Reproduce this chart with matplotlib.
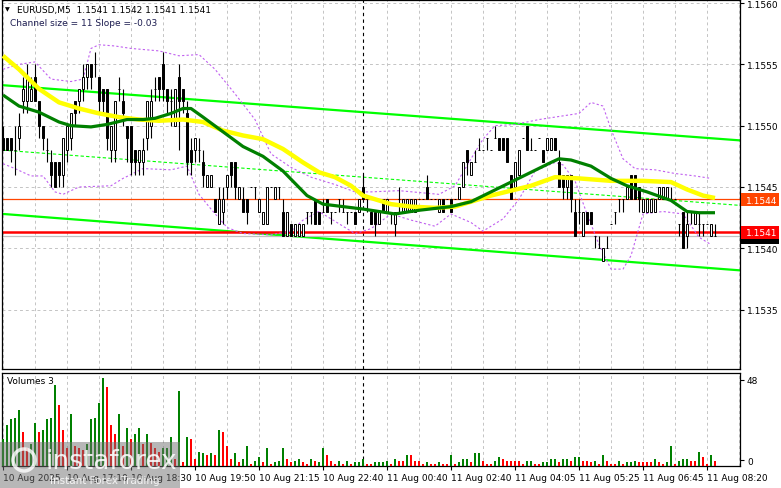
import matplotlib
matplotlib.use("Agg")
import matplotlib.pyplot as plt
import numpy as np
from matplotlib.patches import Rectangle, Ellipse

# M5 candles
opens = [
    1.1549, 1.1549, 1.1549, 1.1548, 1.1549, 1.1552, 1.1552, 1.1552, 1.1554, 1.1552,
    1.1550, 1.1548, 1.1547, 1.1547, 1.1547, 1.1546, 1.1548, 1.1549, 1.1552, 1.1552,
    1.1553, 1.1554, 1.1555, 1.1555, 1.1554, 1.1553, 1.1553, 1.1548, 1.1548, 1.1553,
    1.1552, 1.1550, 1.1550, 1.1548, 1.1547, 1.1547, 1.1549, 1.1550, 1.1553, 1.1554,
    1.1555, 1.1553, 1.1552, 1.1550, 1.1554, 1.1553, 1.1551, 1.1548, 1.1548, 1.1548,
    1.1547, 1.1545, 1.1545, 1.1544, 1.1542, 1.1543, 1.1545, 1.1547, 1.1547, 1.1544,
    1.1544, 1.1544, 1.1545, 1.1545, 1.1543, 1.1542, 1.1542, 1.1545, 1.1544, 1.1545,
    1.1543, 1.1541, 1.1542, 1.1541, 1.1541, 1.1541, 1.1543, 1.1543, 1.1544, 1.1543,
    1.1543, 1.1544, 1.1543, 1.1543, 1.1544, 1.1543, 1.1543, 1.1543, 1.1543, 1.1543,
    1.1545, 1.1544, 1.1543, 1.1543, 1.1542, 1.1544, 1.1543, 1.1543, 1.1542, 1.1544,
    1.1543, 1.1543, 1.1543, 1.1543, 1.1544, 1.1544, 1.1545, 1.1544, 1.1544, 1.1543,
    1.1544, 1.1544, 1.1544, 1.1544, 1.1544, 1.1545, 1.1548, 1.1546, 1.1547, 1.1548,
    1.1548, 1.1549, 1.1548, 1.1549, 1.1549, 1.1549, 1.1549, 1.1546, 1.1545, 1.1546,
    1.1549, 1.1550, 1.1548, 1.1548, 1.1549, 1.1548, 1.1548, 1.1548, 1.1549, 1.1547,
    1.1546, 1.1545, 1.1546, 1.1543, 1.1543, 1.1541, 1.1543, 1.1543, 1.1541, 1.1540,
    1.1539, 1.1540, 1.1542, 1.1543, 1.1544, 1.1544, 1.1544, 1.1546, 1.1546, 1.1545,
    1.1543, 1.1543, 1.1543, 1.1543, 1.1544, 1.1544, 1.1544, 1.1544, 1.1544, 1.1542,
    1.1543, 1.1541, 1.1543, 1.1542, 1.1542, 1.1542, 1.1542, 1.1541, 1.1541]
closes = [
    1.1548, 1.1548, 1.1548, 1.1548, 1.1550, 1.1553, 1.1554, 1.1553, 1.1552, 1.1550,
    1.1549, 1.1548, 1.1546, 1.1545, 1.1546, 1.1549, 1.1550, 1.1551, 1.1551, 1.1553,
    1.1554, 1.1555, 1.1554, 1.1555, 1.1552, 1.1552, 1.1549, 1.1550, 1.1552, 1.1553,
    1.1551, 1.1549, 1.1547, 1.1547, 1.1548, 1.1548, 1.1552, 1.1552, 1.1553, 1.1553,
    1.1553, 1.1552, 1.1552, 1.1553, 1.1552, 1.1552, 1.1547, 1.1547, 1.1549, 1.1548,
    1.1546, 1.1546, 1.1546, 1.1543, 1.1544, 1.1544, 1.1546, 1.1546, 1.1545, 1.1545,
    1.1543, 1.1543, 1.1545, 1.1545, 1.1544, 1.1543, 1.1545, 1.1545, 1.1545, 1.1545,
    1.1541, 1.1543, 1.1541, 1.1542, 1.1542, 1.1542, 1.1543, 1.1543, 1.1542, 1.1542,
    1.1543, 1.1543, 1.1543, 1.1543, 1.1544, 1.1543, 1.1543, 1.1543, 1.1542, 1.1544,
    1.1544, 1.1544, 1.1542, 1.1542, 1.1543, 1.1543, 1.1544, 1.1543, 1.1543, 1.1544,
    1.1544, 1.1544, 1.1544, 1.1544, 1.1544, 1.1544, 1.1544, 1.1544, 1.1544, 1.1544,
    1.1543, 1.1544, 1.1543, 1.1544, 1.1545, 1.1547, 1.1547, 1.1547, 1.1547, 1.1548,
    1.1548, 1.1549, 1.1548, 1.1549, 1.1548, 1.1548, 1.1547, 1.1544, 1.1547, 1.1548,
    1.1549, 1.1548, 1.1548, 1.1548, 1.1549, 1.1547, 1.1549, 1.1549, 1.1548, 1.1545,
    1.1545, 1.1546, 1.1544, 1.1541, 1.1543, 1.1543, 1.1542, 1.1542, 1.1541, 1.1540,
    1.1540, 1.1540, 1.1542, 1.1543, 1.1544, 1.1544, 1.1545, 1.1544, 1.1544, 1.1544,
    1.1544, 1.1544, 1.1544, 1.1544, 1.1545, 1.1545, 1.1545, 1.1544, 1.1544, 1.1542,
    1.1540, 1.1542, 1.1543, 1.1543, 1.1542, 1.1542, 1.1542, 1.1542, 1.1541]
highs = [
    1.1550, 1.1549, 1.1549, 1.1550, 1.1551, 1.1554, 1.1555, 1.1554, 1.1555, 1.1552,
    1.1550, 1.1549, 1.1548, 1.1547, 1.1547, 1.1549, 1.1550, 1.1551, 1.1552, 1.1553,
    1.1555, 1.1555, 1.1555, 1.1556, 1.1554, 1.1553, 1.1553, 1.1550, 1.1552, 1.1554,
    1.1553, 1.1550, 1.1550, 1.1548, 1.1548, 1.1549, 1.1552, 1.1553, 1.1554, 1.1554,
    1.1556, 1.1553, 1.1553, 1.1553, 1.1555, 1.1553, 1.1552, 1.1549, 1.1549, 1.1549,
    1.1548, 1.1546, 1.1546, 1.1544, 1.1545, 1.1545, 1.1546, 1.1547, 1.1547, 1.1545,
    1.1545, 1.1544, 1.1545, 1.1545, 1.1544, 1.1543, 1.1545, 1.1545, 1.1545, 1.1545,
    1.1544, 1.1543, 1.1542, 1.1542, 1.1542, 1.1542, 1.1543, 1.1543, 1.1544, 1.1543,
    1.1544, 1.1544, 1.1543, 1.1543, 1.1544, 1.1544, 1.1543, 1.1543, 1.1543, 1.1544,
    1.1546, 1.1544, 1.1543, 1.1543, 1.1543, 1.1544, 1.1544, 1.1543, 1.1543, 1.1545,
    1.1544, 1.1544, 1.1544, 1.1544, 1.1544, 1.1544, 1.1546, 1.1544, 1.1544, 1.1544,
    1.1544, 1.1544, 1.1544, 1.1544, 1.1545, 1.1547, 1.1548, 1.1547, 1.1548, 1.1549,
    1.1548, 1.1549, 1.1548, 1.1550, 1.1549, 1.1549, 1.1549, 1.1546, 1.1547, 1.1548,
    1.1549, 1.1550, 1.1549, 1.1548, 1.1549, 1.1548, 1.1549, 1.1549, 1.1549, 1.1548,
    1.1546, 1.1546, 1.1546, 1.1544, 1.1544, 1.1543, 1.1543, 1.1543, 1.1541, 1.1541,
    1.1540, 1.1541, 1.1542, 1.1543, 1.1544, 1.1544, 1.1545, 1.1546, 1.1546, 1.1545,
    1.1544, 1.1544, 1.1544, 1.1544, 1.1545, 1.1545, 1.1545, 1.1545, 1.1544, 1.1542,
    1.1543, 1.1543, 1.1543, 1.1543, 1.1543, 1.1542, 1.1542, 1.1542, 1.1542]
lows = [
    1.1548, 1.1548, 1.1547, 1.1546, 1.1548, 1.1551, 1.1551, 1.1552, 1.1552, 1.1549,
    1.1548, 1.1547, 1.1545, 1.1545, 1.1545, 1.1545, 1.1547, 1.1548, 1.1550, 1.1551,
    1.1552, 1.1553, 1.1553, 1.1554, 1.1551, 1.1551, 1.1548, 1.1547, 1.1547, 1.1552,
    1.1550, 1.1547, 1.1546, 1.1546, 1.1546, 1.1546, 1.1548, 1.1549, 1.1552, 1.1552,
    1.1552, 1.1551, 1.1550, 1.1550, 1.1548, 1.1551, 1.1546, 1.1546, 1.1547, 1.1547,
    1.1545, 1.1545, 1.1545, 1.1543, 1.1542, 1.1542, 1.1544, 1.1545, 1.1544, 1.1544,
    1.1543, 1.1542, 1.1545, 1.1544, 1.1543, 1.1542, 1.1542, 1.1545, 1.1544, 1.1544,
    1.1541, 1.1541, 1.1541, 1.1541, 1.1541, 1.1541, 1.1542, 1.1542, 1.1542, 1.1542,
    1.1543, 1.1543, 1.1542, 1.1543, 1.1543, 1.1543, 1.1542, 1.1543, 1.1542, 1.1543,
    1.1544, 1.1543, 1.1542, 1.1541, 1.1542, 1.1543, 1.1543, 1.1542, 1.1541, 1.1543,
    1.1543, 1.1543, 1.1543, 1.1543, 1.1544, 1.1544, 1.1544, 1.1544, 1.1544, 1.1543,
    1.1543, 1.1544, 1.1543, 1.1544, 1.1544, 1.1545, 1.1546, 1.1546, 1.1547, 1.1548,
    1.1548, 1.1548, 1.1548, 1.1549, 1.1548, 1.1548, 1.1547, 1.1544, 1.1545, 1.1546,
    1.1549, 1.1548, 1.1548, 1.1548, 1.1549, 1.1547, 1.1548, 1.1548, 1.1548, 1.1545,
    1.1544, 1.1544, 1.1543, 1.1541, 1.1542, 1.1541, 1.1542, 1.1542, 1.1540, 1.1540,
    1.1539, 1.1540, 1.1542, 1.1542, 1.1543, 1.1543, 1.1544, 1.1544, 1.1544, 1.1543,
    1.1543, 1.1543, 1.1543, 1.1543, 1.1544, 1.1544, 1.1544, 1.1544, 1.1544, 1.1541,
    1.1540, 1.1540, 1.1542, 1.1542, 1.1541, 1.1541, 1.1542, 1.1541, 1.1541]

# Volumes 3 indicator (tick volume) and its colouring (g = up, r = down)
volumes = [
    15, 23, 26, 27, 31, 19, 10, 12, 24, 19, 20, 26, 27, 45, 34, 20, 10, 29, 11, 10,
    9, 12, 26, 27, 35, 49, 44, 23, 18, 29, 11, 21, 15, 18, 21, 12, 18, 13, 10, 8,
    10, 10, 16, 4, 42, 2, 16, 15, 4, 8, 7, 6, 7, 6, 20, 19, 11, 4, 7, 2,
    4, 11, 1, 3, 5, 2, 10, 1, 2, 3, 10, 4, 2, 3, 4, 2, 1, 4, 3, 2,
    10, 6, 3, 1, 3, 1, 3, 1, 2, 2, 4, 1, 1, 2, 2, 2, 3, 1, 4, 3,
    3, 6, 6, 3, 3, 1, 2, 1, 1, 2, 1, 1, 6, 1, 2, 4, 4, 2, 7, 7,
    3, 1, 1, 3, 5, 4, 3, 3, 3, 3, 1, 3, 3, 1, 1, 2, 2, 4, 4, 2,
    4, 4, 3, 5, 5, 3, 3, 2, 3, 1, 6, 3, 1, 1, 3, 1, 2, 2, 3, 2,
    2, 2, 2, 4, 2, 1, 2, 11, 1, 3, 4, 4, 3, 3, 8, 5, 1, 6, 3]
vol_dir = ("gggggrrggr" "ggggrrrgrr" "rgggggrrrg" "rgrggrgrrr" "gggrgrgrrg"
           "grgrgrrrgr" "ggrggrgrgg" "grrggrrgrg" "grrrgrgrgg" "grrggggrgr"
           "rgrrrrgrrg" "rrgrgggrgg" "rrrggrrrrr" "rggrrggggr" "ggrggrrrgr"
           "grrrgrgggr" "rrrgrrggrg" "ggrrgrrgr")

# moving averages (bar index, price)
yellow_i = [0, 4, 9, 14, 19, 24, 29, 34, 39, 45, 50, 55, 60, 65, 70, 75, 79, 83,
            87, 90, 97, 102, 108, 113, 117, 122, 127, 132, 138, 144, 152, 160,
            167, 171, 175, 178]
yellow_p = [1.15557, 1.15546, 1.15530, 1.15519, 1.15514, 1.15510, 1.15507,
            1.15505, 1.15504, 1.15505, 1.15503, 1.15496, 1.15492, 1.15489,
            1.15481, 1.15470, 1.15462, 1.15458, 1.15451, 1.15443, 1.15436,
            1.15434, 1.15433, 1.15434, 1.15438, 1.15443, 1.15447, 1.15451,
            1.15458, 1.15457, 1.15455, 1.15455, 1.15454, 1.15448, 1.15443, 1.15441]
green_i = [0, 4, 9, 14, 17, 22, 26, 31, 35, 38, 42, 45, 47, 50, 55, 60, 65, 70,
           73, 76, 80, 85, 90, 98, 104, 112, 117, 122, 127, 132, 137, 139, 142,
           147, 152, 156, 161, 167, 171, 174, 178]
green_p = [1.15525, 1.15516, 1.15511, 1.15503, 1.15500, 1.15499, 1.15501,
           1.15505, 1.15505, 1.15506, 1.15510, 1.15514, 1.15514, 1.15507,
           1.15495, 1.15483, 1.15475, 1.15463, 1.15453, 1.15443, 1.15436,
           1.15434, 1.15432, 1.15428, 1.15431, 1.15434, 1.15438, 1.15446,
           1.15454, 1.15462, 1.15470, 1.15473, 1.15472, 1.15467, 1.15457,
           1.15451, 1.15446, 1.15439, 1.15430, 1.15429, 1.15429]

# envelope bands (purple dashed)
band_up_i = [0, 4, 8, 12, 17, 20, 22, 24, 28, 32, 39, 44, 49, 53, 58, 63, 67, 72,
             77, 83, 88, 92, 99, 109, 113, 117, 120, 123, 128, 134, 140, 144,
             147, 150, 152, 155, 158, 163, 168, 173, 177]
band_up_p = [1.15546, 1.15550, 1.15552, 1.15538, 1.15536, 1.15538, 1.15563,
             1.15566, 1.15565, 1.15563, 1.15561, 1.15557, 1.15558, 1.15546,
             1.15526, 1.15505, 1.15477, 1.15466, 1.15458, 1.15452, 1.15446,
             1.15446, 1.15447, 1.15444, 1.15451, 1.15473, 1.15489, 1.15500,
             1.15501, 1.15505, 1.15508, 1.15510, 1.15519, 1.15516, 1.15497,
             1.15473, 1.15465, 1.15464, 1.15461, 1.15459, 1.15457]
band_lo_i = [0, 3, 7, 10, 13, 15, 19, 27, 30, 35, 42, 46, 49, 52, 56, 60, 67, 72,
             75, 79, 84, 88, 92, 97, 102, 108, 112, 117, 120, 125, 129, 133, 138,
             140, 143, 146, 149, 152, 155, 157, 160, 165, 170, 174, 177]
band_lo_p = [1.15469, 1.15465, 1.15459, 1.15459, 1.15446, 1.15444, 1.15450,
             1.15451, 1.15457, 1.15465, 1.15464, 1.15467, 1.15444, 1.15432,
             1.15417, 1.15412, 1.15411, 1.15414, 1.15423, 1.15430, 1.15420,
             1.15412, 1.15416, 1.15428, 1.15423, 1.15418, 1.15428, 1.15421,
             1.15414, 1.15424, 1.15440, 1.15463, 1.15470, 1.15468, 1.15455,
             1.15428, 1.15403, 1.15383, 1.15383, 1.15394, 1.15428, 1.15430,
             1.15428, 1.15409, 1.15403]

# regression channel end points
chan_i = [0, 184.25]
chan_upper = [1.15533, 1.15488]
chan_mid = [1.15480, 1.15435]
chan_lower = [1.15428, 1.15382]

orange_level = 1.15440
red_level = 1.15413
bid_level = 1.15410
separator_bar = 90

price_ticks = [1.1535, 1.1540, 1.1545, 1.1550, 1.1555, 1.1560]
time_pos = [0, 16, 32, 48, 64, 80, 96, 112, 128, 144, 160, 176]
time_labels = ["10 Aug 2025", "10 Aug 17:10", "10 Aug 18:30", "10 Aug 19:50",
               "10 Aug 21:15", "10 Aug 22:40", "11 Aug 00:40", "11 Aug 02:40",
               "11 Aug 04:05", "11 Aug 05:25", "11 Aug 06:45", "11 Aug 08:20"]

W, H = 781, 489
fig = plt.figure(figsize=(W / 100, H / 100), dpi=100)


def box(l, t, r, b):
    return [l / W, 1 - b / H, (r - l) / W, (b - t) / H]


def fx(px):
    return px / W


def fy(py):
    return 1 - py / H


ax = fig.add_axes(box(2, 1, 740, 370))
axv = fig.add_axes(box(2, 374, 740, 467))

grid_kw = dict(color='#c4c4c4', lw=0.7, ls=(0, (3, 3)), zorder=0)
for a in (ax, axv):
    a.set_xlim(-0.25, 184.25)
    for k in range(0, 185, 8):
        a.axvline(k, **grid_kw)
    a.axvline(separator_bar, color='black', lw=0.8, ls=(0, (3, 3)), zorder=1)
    for s in a.spines.values():
        s.set_linewidth(0.9)
        s.set_color('black')

ax.set_ylim(1.1530155, 1.156025)
for p in price_ticks:
    ax.axhline(p, **grid_kw)

# channel
ax.plot(chan_i, chan_upper, color='#00ff00', lw=1.6, zorder=2)
ax.plot(chan_i, chan_lower, color='#00ff00', lw=1.6, zorder=2)
ax.plot(chan_i, chan_mid, color='#00ff00', lw=0.8, ls=(0, (3, 2)), zorder=2)

# levels
ax.axhline(bid_level, color='#c0c0c0', lw=0.9, zorder=2)
ax.axhline(orange_level, color='#ff4500', lw=0.9, zorder=2)
ax.axhline(red_level, color='#ff0000', lw=1.8, zorder=2)

# bands
ax.plot(band_up_i, band_up_p, color='#c060f0', lw=0.8, ls=(0, (2, 2)), zorder=3)
ax.plot(band_lo_i, band_lo_p, color='#c060f0', lw=0.8, ls=(0, (2, 2)), zorder=3)

# candles
x = np.arange(len(closes))
o = np.array(opens)
c = np.array(closes)
ax.vlines(x, lows, highs, color='black', lw=0.8, zorder=4)
fill = ['white' if cc > oo else 'black' for oo, cc in zip(o, c)]
ax.bar(x, np.abs(c - o), bottom=np.minimum(o, c), width=0.55, color=fill,
       edgecolor='black', lw=0.7, zorder=5)

# moving averages
ax.plot(yellow_i, yellow_p, color='#ffff00', lw=3.2, zorder=6,
        solid_capstyle='butt')
ax.plot(green_i, green_p, color='#008000', lw=2.3, zorder=7,
        solid_capstyle='butt')

ax.set_xticks([])
ax.yaxis.tick_right()
ax.set_yticks(price_ticks)
ax.set_yticklabels([f"{p:.4f}" for p in price_ticks])
ax.tick_params(axis='y', direction='out', length=3, width=0.8, pad=2,
               labelsize=6.5)

# volumes
vcol = ['#008000' if d == 'g' else '#ff0000' for d in vol_dir]
axv.bar(x, volumes, width=0.6, color=vcol, zorder=3)
axv.set_ylim(0, 51.9)
axv.yaxis.tick_right()
axv.set_yticks([3.3, 48])
axv.set_yticklabels(['0', '48'])
axv.tick_params(axis='y', direction='out', length=3, width=0.8, pad=2,
                labelsize=6.5)
axv.set_xticks(time_pos)
axv.set_xticklabels(time_labels, ha='left')
axv.tick_params(axis='x', direction='out', length=3, width=0.8, pad=2,
                labelsize=6.5)

# header texts
fig.text(fx(5), fy(10), "\u25bc", fontsize=4.5, va='center')
fig.text(fx(17), fy(10), "EURUSD,M5  1.1541 1.1542 1.1541 1.1541",
         fontsize=6.5, va='center')
fig.text(fx(10), fy(23), "Channel size = 11 Slope = -0.03", fontsize=6.5,
         va='center', color='#1c1c50')
fig.text(fx(7), fy(382), "Volumes 3", fontsize=6.5, va='center')

# price tags on the right
fig.add_artist(Rectangle((fx(741), fy(245)), fx(38), 8 / H, fc='black',
                         ec='none'))
fig.add_artist(Rectangle((fx(741), fy(207)), fx(38), 13 / H, fc='#ff4500',
                         ec='none'))
fig.text(fx(746), fy(201), "1.1544", color='white', fontsize=6.5, va='center')
fig.add_artist(Rectangle((fx(741), fy(240)), fx(38), 13 / H, fc='#ff0000',
                         ec='none'))
fig.text(fx(746), fy(234), "1.1541", color='white', fontsize=6.5, va='center')

# watermark
fig.add_artist(Rectangle((0, fy(489)), fx(180), 46 / H, fc='#707070',
                         alpha=0.5, ec='none', zorder=20))
fig.add_artist(Ellipse((fx(24), fy(461)), 22 / W, 22 / H, fc='none',
                       ec='white', lw=2.5, alpha=0.8, zorder=21))
fig.text(fx(46), fy(462), "instaforex", color='white', fontsize=19,
         va='center', alpha=0.85, zorder=21)
fig.text(fx(50), fy(481), "Instant Forex Trading", color='white', fontsize=7.5,
         va='center', alpha=0.85, zorder=21)

fig.savefig("out.png", dpi=100)
